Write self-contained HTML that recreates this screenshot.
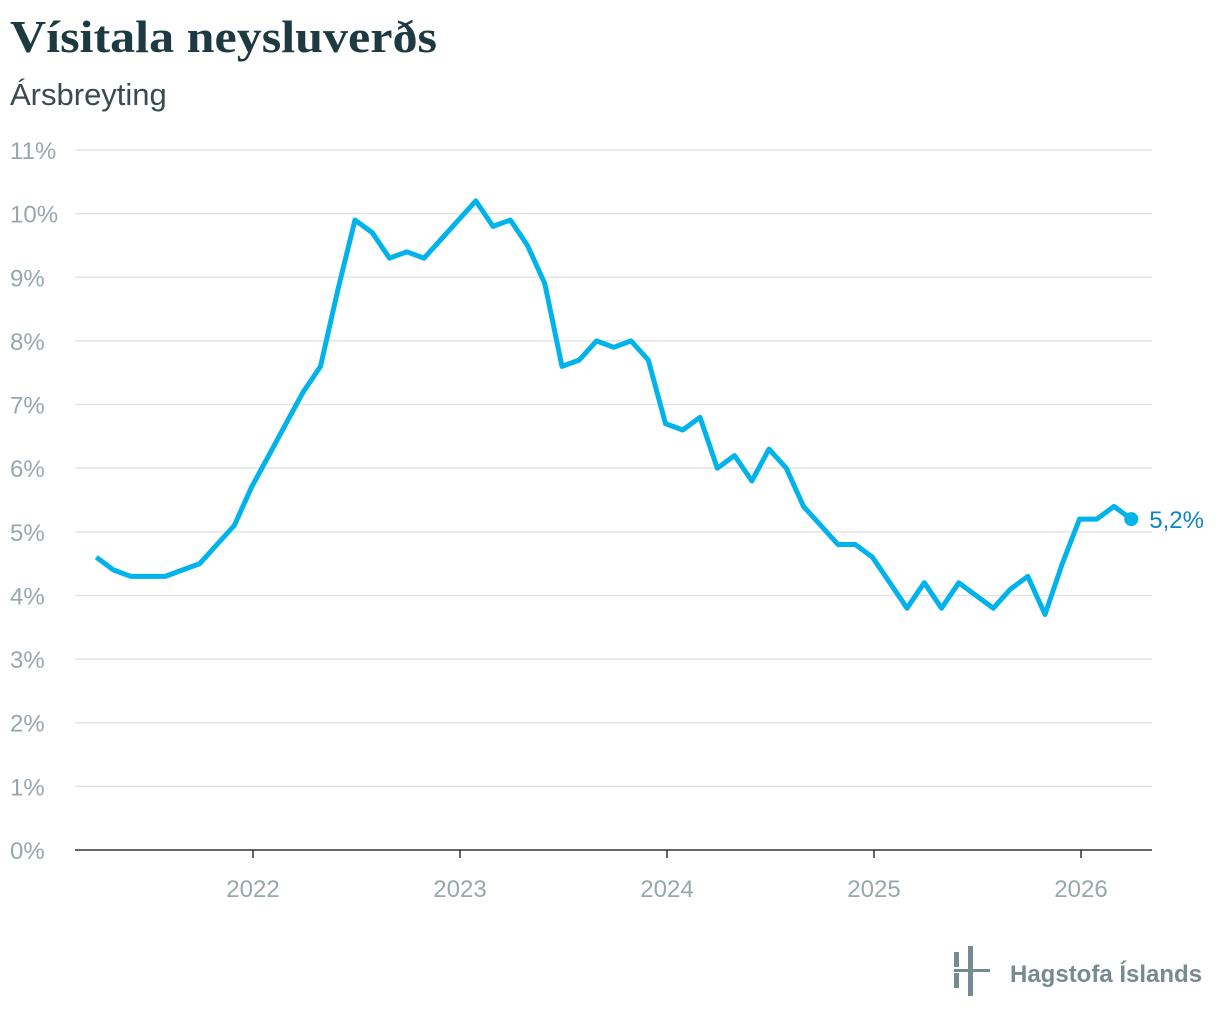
<!DOCTYPE html>
<html><head><meta charset="utf-8"><style>
body{margin:0;background:#fff;width:1220px;height:1022px;overflow:hidden;}
svg text{font-family:"Liberation Sans",sans-serif;}
svg text.serif{font-family:"Liberation Serif",serif;}
</style></head><body>
<svg id="c" width="1220" height="1022" xmlns="http://www.w3.org/2000/svg">
<text class="serif" x="10" y="52" font-size="46" font-weight="bold" fill="#1d3a40" textLength="427" lengthAdjust="spacingAndGlyphs">Vísitala neysluverðs</text>
<text x="10" y="105" font-size="31" fill="#3a4a4e">Ársbreyting</text>
<g id="grid"></g><g id="xax"></g>
<path id="line" fill="none" stroke="#00b3ea" stroke-width="5" stroke-linejoin="round"></path>
<circle id="dot" r="7" fill="#00b3ea"></circle>
<text id="lbl" font-size="24" fill="#0a86c2"></text>
<g fill="#758b8f">
<rect x="954" y="952" width="5" height="15"/><rect x="954" y="973" width="5" height="15"/>
<rect x="968" y="946" width="5" height="50"/><rect x="954" y="969" width="36" height="3"/>
<text x="1010" y="982" font-size="24" font-weight="bold" fill="#758b8f">Hagstofa Íslands</text>
</g>
</svg>
<script>
const yTicks=[0,1,2,3,4,5,6,7,8,9,10,11];
const years=[2022,2023,2024,2025,2026];
const startMonth=-9; // April 2021 relative to Jan 2022
const values=[4.6,4.4,4.3,4.3,4.3,4.4,4.5,4.8,5.1,5.7,6.2,6.7,7.2,7.6,8.8,9.9,9.7,9.3,9.4,9.3,9.6,9.9,10.2,9.8,9.9,9.5,8.9,7.6,7.7,8.0,7.9,8.0,7.7,6.7,6.6,6.8,6.0,6.2,5.8,6.3,6.0,5.4,5.1,4.8,4.8,4.6,4.2,3.8,4.2,3.8,4.2,4.0,3.8,4.1,4.3,3.7,4.5,5.2,5.2,5.4,5.2];
const ns="http://www.w3.org/2000/svg";
const y=v=>850-v*(700/11);
const x=m=>253+m*(207/12);
const lx0=m=>x(m)-1.5;
const grid=document.getElementById('grid');
yTicks.forEach(t=>{
 const l=document.createElementNS(ns,'line');
 l.setAttribute('x1',75);l.setAttribute('x2',1152);l.setAttribute('y1',y(t));l.setAttribute('y2',y(t));
 l.setAttribute('stroke',t===0?'#333':'#e3e3e3');l.setAttribute('stroke-width',1.5);
 
 
 grid.appendChild(l);
 const tx=document.createElementNS(ns,'text');
 tx.setAttribute('x',10);tx.setAttribute('y',y(t)+9);tx.setAttribute('font-size','24');tx.setAttribute('fill','#98a7ab');
 tx.textContent=t+'%';
 
 
 grid.appendChild(tx);
});
const xax=document.getElementById('xax');
years.forEach((yr,i)=>{
 const px=x(i*12);
 const l=document.createElementNS(ns,'line');
 l.setAttribute('x1',px);l.setAttribute('x2',px);l.setAttribute('y1',850);l.setAttribute('y2',858);l.setAttribute('stroke','#333');l.setAttribute('stroke-width',1.5);
 
 
 xax.appendChild(l);
 const tx=document.createElementNS(ns,'text');
 tx.setAttribute('x',px);tx.setAttribute('y',897);tx.setAttribute('font-size','24');tx.setAttribute('fill','#98a7ab');tx.setAttribute('text-anchor','middle');
 tx.textContent=yr;
 
 
 xax.appendChild(tx);
});
let d='';
values.forEach((v,i)=>{d+=(i?'L':'M')+lx0(startMonth+i).toFixed(1)+','+y(v).toFixed(1);});
document.getElementById('line').setAttribute('d',d);
const li=values.length-1,lx=lx0(startMonth+li),ly=y(values[li]);
const dot=document.getElementById('dot');dot.setAttribute('cx',lx);dot.setAttribute('cy',ly);
const lbl=document.getElementById('lbl');lbl.setAttribute('x',lx+18);lbl.setAttribute('y',ly+9);
lbl.textContent=values[li].toFixed(1).replace('.',',')+'%';
</script>
</body></html>
